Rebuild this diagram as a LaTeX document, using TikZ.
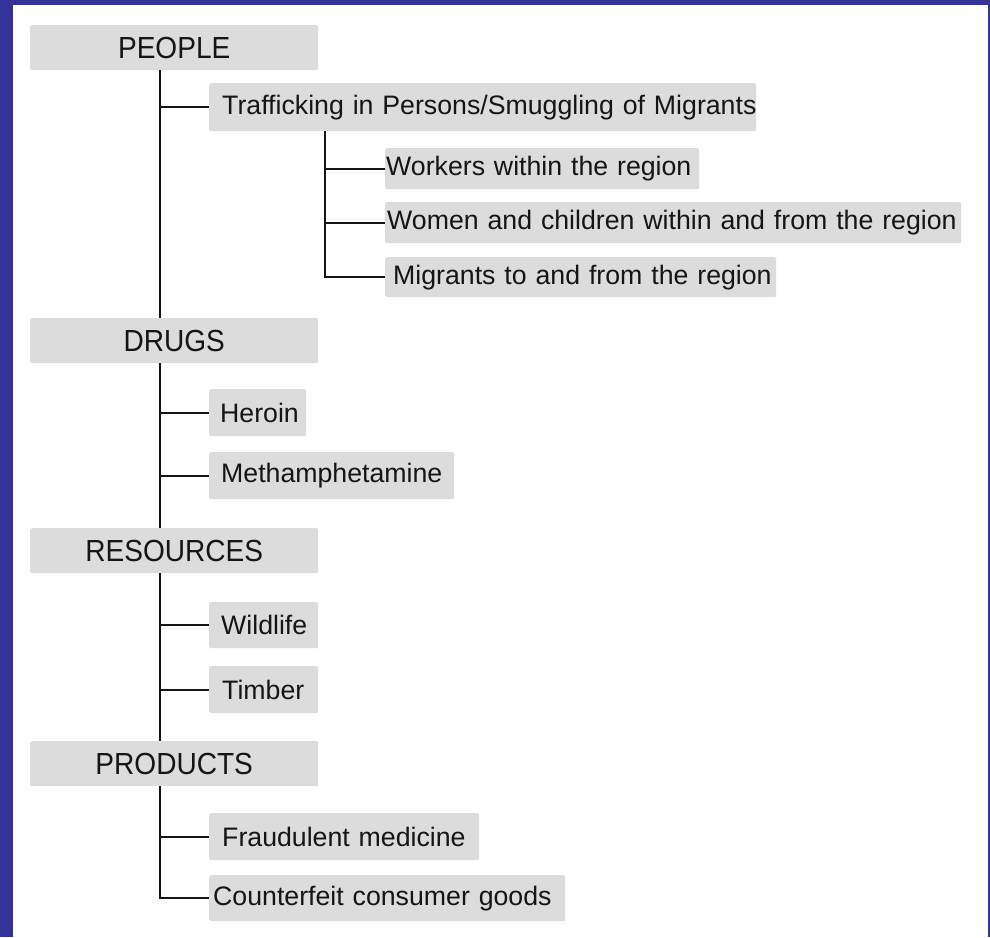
\documentclass[tikz,border=0pt]{standalone}
\usepackage{fontspec}
\setmainfont{Liberation Sans}
\newfontfamily\hdrfont[FakeStretch=0.92]{Liberation Sans}
\definecolor{frameblue}{HTML}{333399}
\definecolor{boxgray}{HTML}{DCDCDC}
\definecolor{ink}{HTML}{151515}
\hbadness=10000 \hfuzz=50pt
\begin{document}
\begin{tikzpicture}[x=1pt,y=-1pt,
  hdr/.style={fill=boxgray, rounded corners=2pt, anchor=north west, minimum width=288pt,
    minimum height=45pt, inner sep=0pt, text=ink, font=\hdrfont\fontsize{30.5}{34}\selectfont},
  leaf/.style n args={3}{fill=boxgray, rounded corners=2pt, anchor=north west,
    text width=#1pt-2*#2pt, inner xsep=#2pt, inner ysep=0pt, minimum height=#3pt,
    align=left, text=ink, font=\fontsize{26.7}{32}\selectfont},
  link/.style={draw=ink, line width=2.3pt}]
\useasboundingbox (0,0) rectangle (990,937);
\fill[frameblue] (0,0) rectangle (990,937);
\fill[white] (13,5) rectangle (988,937);
\coordinate (tx) at (160,0);
\coordinate (sx) at (325,0);
% headers
\node[hdr] (people) at (30,25) {PEOPLE};
\node[hdr] (drugs) at (30,318) {DRUGS};
\node[hdr] (resources) at (30,528) {RESOURCES};
\node[hdr] (products) at (30,741) {PRODUCTS};
% leaves
\node[leaf={547}{13}{48}] (traf) at (209,83) {\mbox{Trafficking in Persons/Smuggling of Migrants}};
\node[leaf={314}{1}{41}] (work) at (385,148) {\mbox{Workers within the region}};
\node[leaf={576}{2}{41}] (women) at (385,202) {\mbox{Women and children within and from the region}};
\node[leaf={391}{8}{40}] (migr) at (385,257) {\mbox{Migrants to and from the region}};
\node[leaf={97}{11}{47}] (heroin) at (209,389) {\mbox{Heroin}};
\node[leaf={245}{12}{47}] (meth) at (209,452) {\mbox{Methamphetamine}};
\node[leaf={109}{12}{46}] (wild) at (209,602) {\mbox{Wildlife}};
\node[leaf={109}{13}{47}] (timber) at (209,666) {\mbox{Timber}};
\node[leaf={270}{13}{47}] (fraud) at (209,813) {\mbox{Fraudulent medicine}};
\node[leaf={356}{4}{46}] (counter) at (209,875) {\mbox{Counterfeit consumer goods}};
% connectors
\draw[link] (people.south -| tx) -- (drugs.north -| tx);
\draw[link] (traf.west -| tx) -- (traf.west);
\draw[link] (traf.south -| sx) -- (migr.west -| sx) -- (migr.west);
\draw[link] (work.west -| sx) -- (work.west);
\draw[link] (women.west -| sx) -- (women.west);
\draw[link] (drugs.south -| tx) -- (resources.north -| tx);
\draw[link] (heroin.west -| tx) -- (heroin.west);
\draw[link] (meth.west -| tx) -- (meth.west);
\draw[link] (resources.south -| tx) -- (products.north -| tx);
\draw[link] (wild.west -| tx) -- (wild.west);
\draw[link] (timber.west -| tx) -- (timber.west);
\draw[link] (products.south -| tx) -- (counter.west -| tx) -- (counter.west);
\draw[link] (fraud.west -| tx) -- (fraud.west);
\end{tikzpicture}
\end{document}
